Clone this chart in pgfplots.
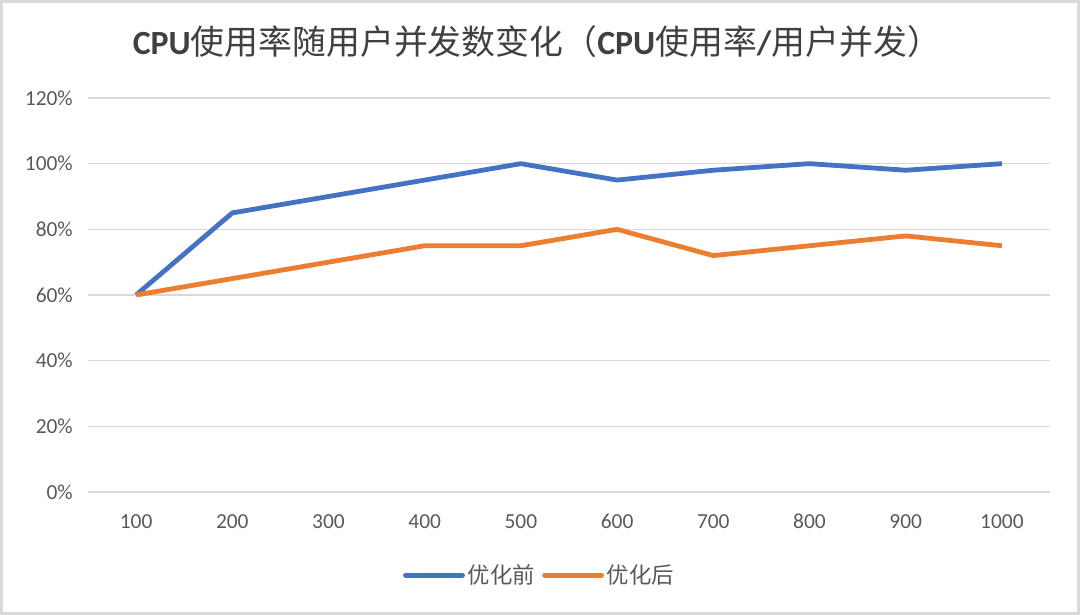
\documentclass[border=0pt]{standalone}
\usepackage{pgfplots}
\pgfplotsset{compat=1.18}
\usepackage{fontspec}
\setmainfont{Carlito}
\newfontfamily\cjk{Noto Sans CJK SC}
\definecolor{cblue}{HTML}{4472C4}
\definecolor{corange}{HTML}{ED7D31}
\definecolor{cgrid}{HTML}{D9D9D9}
\definecolor{ctext}{HTML}{595959}
\definecolor{ctitle}{HTML}{404040}
\begin{document}
\begin{tikzpicture}
\useasboundingbox (-88bp,-123bp) rectangle (992bp,492bp);
\draw[cgrid, line width=2.5bp] (-86.7bp,-121.7bp) rectangle (990.7bp,490.7bp);
\begin{axis}[
  at={(0,0)}, anchor=south west,
  scale only axis, width=962bp, height=394bp,
  xmin=-0.5, xmax=9.5, ymin=0, ymax=120,
  xtick={0,...,9},
  xticklabels={100,200,300,400,500,600,700,800,900,1000},
  ytick={0,20,...,120},
  yticklabel={\pgfmathprintnumber{\tick}\%},
  /pgf/number format/assume math mode=true,
  major tick length=0pt,
  axis line style={draw=none},
  ymajorgrids, grid style={cgrid, line width=1.3bp},
  ticklabel style={font=\fontsize{21.5}{24}\selectfont, text=ctext},
  yticklabel style={anchor=east, inner sep=0pt, xshift=-15bp},
  xticklabel style={anchor=north, inner sep=0pt, yshift=-22bp},
  legend columns=2,
  legend style={at={(0.47,-0.211)}, anchor=center, draw=none, fill=none,
    font=\cjk\fontsize{22.5}{26}\selectfont, text=ctext,
    /tikz/every even column/.style={column sep=4bp},
    nodes={inner sep=3bp}},
  legend image code/.code={\draw[#1, line cap=round] (0bp,0bp) -- (57bp,0bp);},
  every axis plot/.append style={line width=4.8bp, line join=round},
]
\addplot[cblue] coordinates {(0,60) (1,85) (2,90) (3,95) (4,100) (5,95) (6,98) (7,100) (8,98) (9,100)};
\addlegendentry{优化前}
\addplot[corange] coordinates {(0,60) (1,65) (2,70) (3,75) (4,75) (5,80) (6,72) (7,75) (8,78) (9,75)};
\addlegendentry{优化后}
\end{axis}
\node[text=ctitle, inner sep=0pt] at (449bp,450bp) {\fontsize{34}{38}\selectfont\textbf{CPU}{\cjk 使用率随用户并发数变化（}\textbf{CPU}{\cjk 使用率}\textbf{/}{\cjk 用户并发）}};
\end{tikzpicture}
\end{document}
